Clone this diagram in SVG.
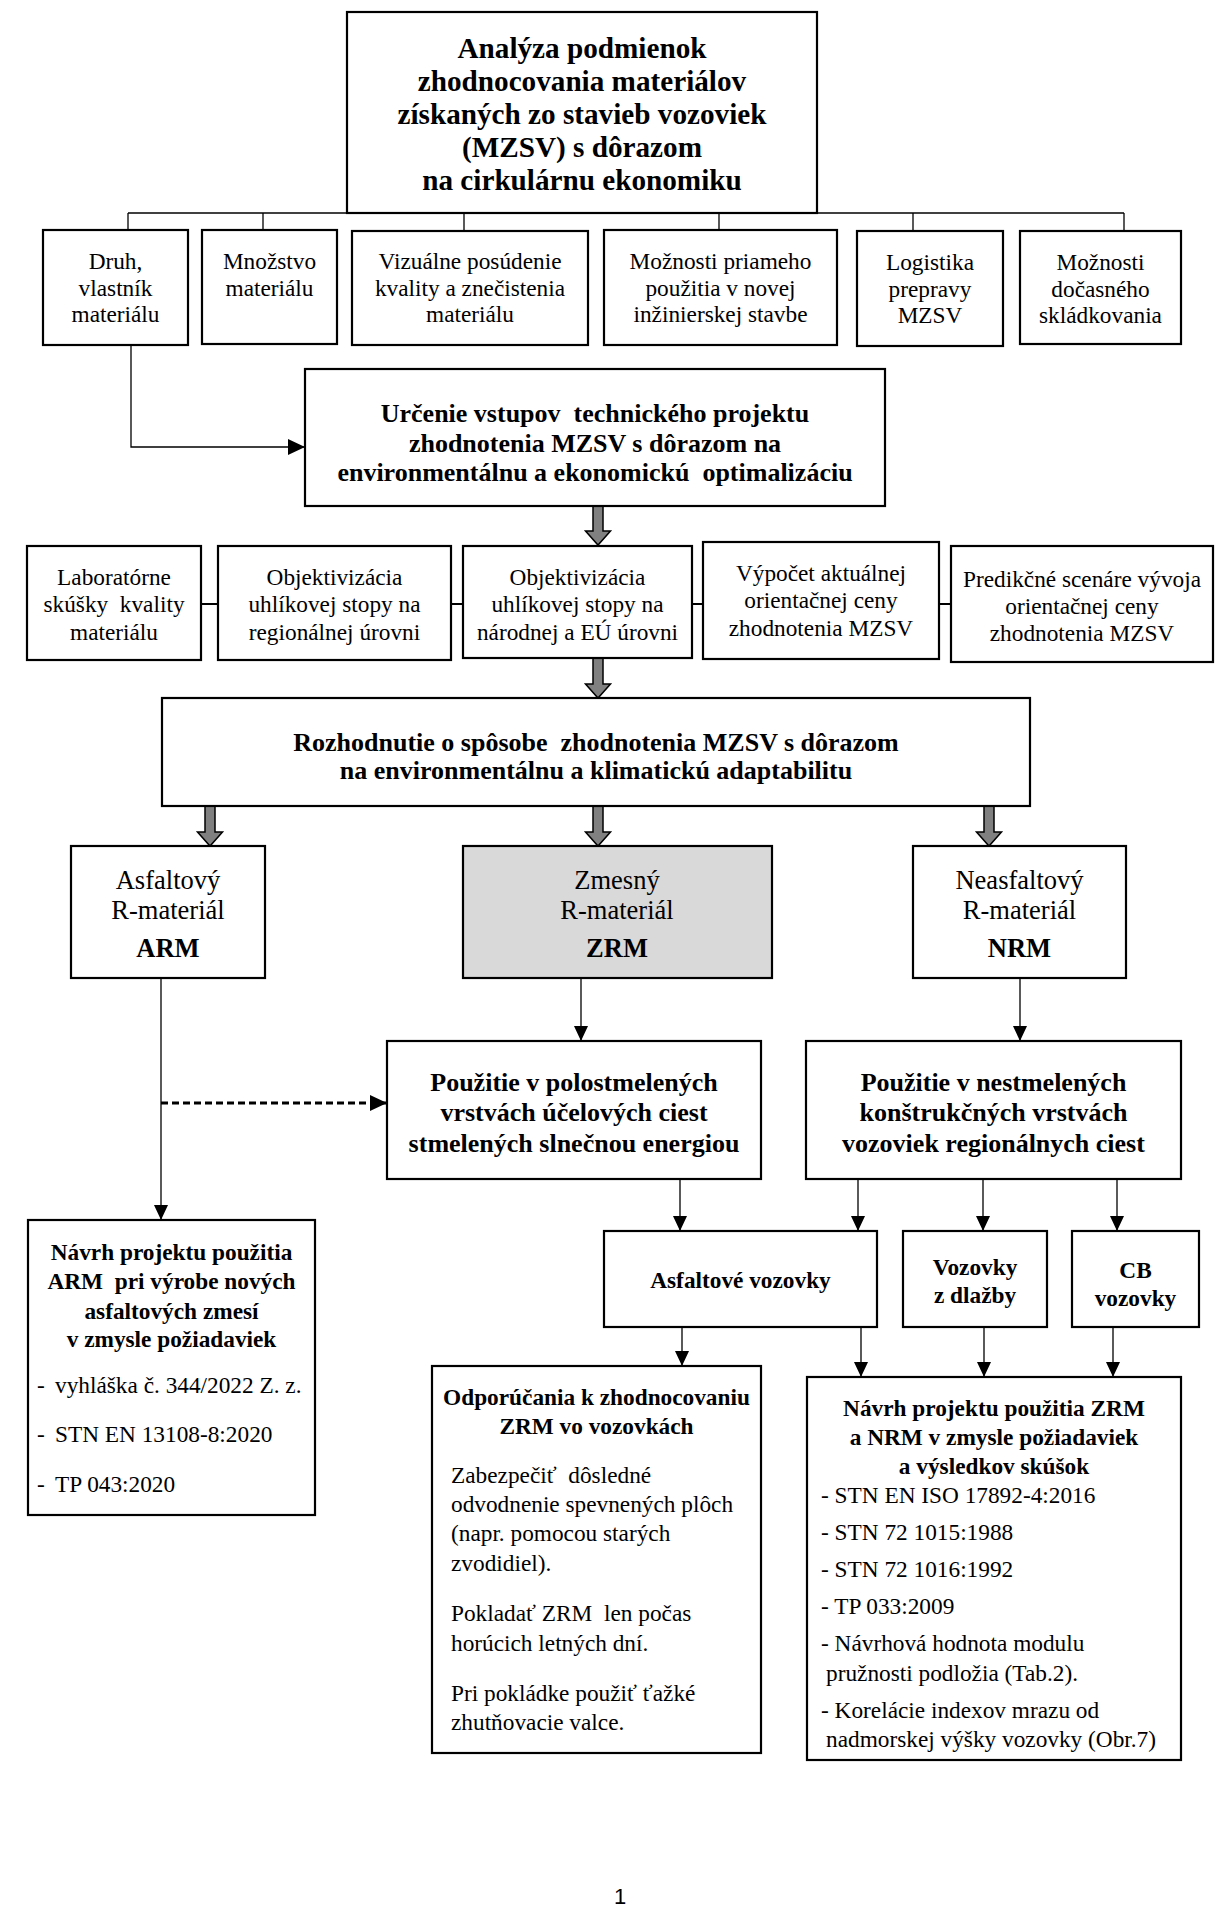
<svg xmlns="http://www.w3.org/2000/svg" width="1231" height="1920" viewBox="0 0 1231 1920">
<style>
.box{fill:#fff;stroke:#000;stroke-width:2.2}
.gray{fill:#d9d9d9}
.t{font-family:"Liberation Serif","Times New Roman",serif;font-size:23.3px;text-anchor:middle;fill:#000}
.b{font-weight:bold}
.m{font-size:26px}
.h{font-size:29.2px}
.r{font-size:26.5px}
.l{text-anchor:start}
.ln{stroke:#000;stroke-width:1.3;fill:none}
.ga{fill:#808080;stroke:#000;stroke-width:1.5}
</style>
<defs>
<marker id="ar" markerUnits="userSpaceOnUse" markerWidth="16" markerHeight="14" refX="15" refY="7" orient="auto"><path d="M0,0 L15,7 L0,14 z" fill="#000"/></marker>
<marker id="arb" markerUnits="userSpaceOnUse" markerWidth="18" markerHeight="16" refX="17" refY="8" orient="auto"><path d="M0,0 L17,8 L0,16 z" fill="#000"/></marker>
</defs>
<rect width="1231" height="1920" fill="#fff"/>

<g id="connectors">
<line class="ln" x1="128" y1="213" x2="1124" y2="213"/>
<line class="ln" x1="128" y1="213" x2="128" y2="230"/>
<line class="ln" x1="263" y1="213" x2="263" y2="230"/>
<line class="ln" x1="464" y1="213" x2="464" y2="231"/>
<line class="ln" x1="719" y1="213" x2="719" y2="230"/>
<line class="ln" x1="913" y1="213" x2="913" y2="231"/>
<line class="ln" x1="1124" y1="213" x2="1124" y2="231"/>
<line class="ln" x1="589" y1="188" x2="589" y2="213" marker-end="url(#ar)"/>
<polyline class="ln" points="131,345 131,447 305,447" marker-end="url(#arb)"/>
<polygon class="ga" points="593,506 603,506 603,531 610.5,531 598,545 585.5,531 593,531"/>
<line class="ln" style="stroke-width:2" x1="201" y1="604" x2="218" y2="604"/>
<line class="ln" style="stroke-width:2" x1="451" y1="604" x2="463" y2="604"/>
<line class="ln" style="stroke-width:2" x1="692" y1="604" x2="703" y2="604"/>
<line class="ln" style="stroke-width:2" x1="939" y1="604" x2="951" y2="604"/>
<polygon class="ga" points="593,658 603,658 603,684 610.5,684 598,698 585.5,684 593,684"/>
<polygon class="ga" points="205,806 215,806 215,832 222.5,832 210,846 197.5,832 205,832"/>
<polygon class="ga" points="593,806 603,806 603,832 610.5,832 598,846 585.5,832 593,832"/>
<polygon class="ga" points="984,804 994,804 994,832 1001.5,832 989,846 976.5,832 984,832"/>
<line class="ln" x1="161" y1="978" x2="161" y2="1220" marker-end="url(#ar)"/>
<line class="ln" style="stroke-width:3;stroke-dasharray:7 4" x1="161" y1="1103" x2="387" y2="1103" marker-end="url(#arb)"/>
<line class="ln" x1="581" y1="978" x2="581" y2="1041" marker-end="url(#ar)"/>
<line class="ln" x1="1020" y1="978" x2="1020" y2="1041" marker-end="url(#ar)"/>
<line class="ln" x1="680" y1="1179" x2="680" y2="1231" marker-end="url(#ar)"/>
<line class="ln" x1="858" y1="1179" x2="858" y2="1231" marker-end="url(#ar)"/>
<line class="ln" x1="983" y1="1179" x2="983" y2="1231" marker-end="url(#ar)"/>
<line class="ln" x1="1117" y1="1179" x2="1117" y2="1231" marker-end="url(#ar)"/>
<line class="ln" x1="682" y1="1327" x2="682" y2="1366" marker-end="url(#ar)"/>
<line class="ln" x1="861" y1="1327" x2="861" y2="1377" marker-end="url(#ar)"/>
<line class="ln" x1="984" y1="1327" x2="984" y2="1377" marker-end="url(#ar)"/>
<line class="ln" x1="1113" y1="1327" x2="1113" y2="1377" marker-end="url(#ar)"/>
</g>

<g id="analyza">
<rect class="box" x="347" y="12" width="470" height="201"/>
<text class="t b h" x="582" y="58">Analýza podmienok</text>
<text class="t b h" x="582" y="91">zhodnocovania materiálov</text>
<text class="t b h" x="582" y="124">získaných zo stavieb vozoviek</text>
<text class="t b h" x="582" y="157">(MZSV) s dôrazom</text>
<text class="t b h" x="582" y="190">na cirkulárnu ekonomiku</text>
</g>

<g id="druh">
<rect class="box" x="43" y="230" width="145" height="115"/>
<text class="t" x="115.5" y="269">Druh,</text>
<text class="t" x="115.5" y="296">vlastník</text>
<text class="t" x="115.5" y="322">materiálu</text>
</g>
<g id="mnozstvo">
<rect class="box" x="202" y="230" width="135" height="114"/>
<text class="t" x="269.5" y="269">Množstvo</text>
<text class="t" x="269.5" y="296">materiálu</text>
</g>
<g id="vizualne">
<rect class="box" x="352" y="231" width="236" height="114"/>
<text class="t" x="470" y="269">Vizuálne posúdenie</text>
<text class="t" x="470" y="296">kvality a znečistenia</text>
<text class="t" x="470" y="322">materiálu</text>
</g>
<g id="moznosti-priameho">
<rect class="box" x="604" y="230" width="233" height="115"/>
<text class="t" x="720.5" y="269">Možnosti priameho</text>
<text class="t" x="720.5" y="296">použitia v novej</text>
<text class="t" x="720.5" y="322">inžinierskej stavbe</text>
</g>
<g id="logistika">
<rect class="box" x="857" y="231" width="146" height="115"/>
<text class="t" x="930" y="270">Logistika</text>
<text class="t" x="930" y="297">prepravy</text>
<text class="t" x="930" y="323">MZSV</text>
</g>
<g id="moznosti-docasneho">
<rect class="box" x="1020" y="231" width="161" height="113"/>
<text class="t" x="1100.5" y="270">Možnosti</text>
<text class="t" x="1100.5" y="297">dočasného</text>
<text class="t" x="1100.5" y="323">skládkovania</text>
</g>

<g id="urcenie">
<rect class="box" x="305" y="369" width="580" height="137"/>
<text class="t b m" x="595" y="422" xml:space="preserve">Určenie vstupov  technického projektu</text>
<text class="t b m" x="595" y="452">zhodnotenia MZSV s dôrazom na</text>
<text class="t b m" x="595" y="481" xml:space="preserve">environmentálnu a ekonomickú  optimalizáciu</text>
</g>

<g id="laboratorne">
<rect class="box" x="27" y="546" width="174" height="114"/>
<text class="t" x="114" y="585">Laboratórne</text>
<text class="t" x="114" y="612" xml:space="preserve">skúšky  kvality</text>
<text class="t" x="114" y="640">materiálu</text>
</g>
<g id="objektivizacia-regionalna">
<rect class="box" x="218" y="546" width="233" height="114"/>
<text class="t" x="334.5" y="585">Objektivizácia</text>
<text class="t" x="334.5" y="612">uhlíkovej stopy na</text>
<text class="t" x="334.5" y="640">regionálnej úrovni</text>
</g>
<g id="objektivizacia-narodna">
<rect class="box" x="463" y="546" width="229" height="112"/>
<text class="t" x="577.5" y="585">Objektivizácia</text>
<text class="t" x="577.5" y="612">uhlíkovej stopy na</text>
<text class="t" x="577.5" y="640">národnej a EÚ úrovni</text>
</g>
<g id="vypocet">
<rect class="box" x="703" y="542" width="236" height="117"/>
<text class="t" x="821" y="581">Výpočet aktuálnej</text>
<text class="t" x="821" y="608">orientačnej ceny</text>
<text class="t" x="821" y="636">zhodnotenia MZSV</text>
</g>
<g id="predikcne">
<rect class="box" x="951" y="546" width="262" height="116"/>
<text class="t" x="1082" y="587">Predikčné scenáre vývoja</text>
<text class="t" x="1082" y="614">orientačnej ceny</text>
<text class="t" x="1082" y="641">zhodnotenia MZSV</text>
</g>

<g id="rozhodnutie">
<rect class="box" x="162" y="698" width="868" height="108"/>
<text class="t b m" x="596" y="751" xml:space="preserve">Rozhodnutie o spôsobe  zhodnotenia MZSV s dôrazom</text>
<text class="t b m" x="596" y="779">na environmentálnu a klimatickú adaptabilitu</text>
</g>

<g id="arm">
<rect class="box" x="71" y="846" width="194" height="132"/>
<text class="t r" x="168" y="889">Asfaltový</text>
<text class="t r" x="168" y="919">R-materiál</text>
<text class="t r b" x="168" y="957">ARM</text>
</g>
<g id="zrm">
<rect class="box gray" x="463" y="846" width="309" height="132"/>
<text class="t r" x="617" y="889">Zmesný</text>
<text class="t r" x="617" y="919">R-materiál</text>
<text class="t r b" x="617" y="957">ZRM</text>
</g>
<g id="nrm">
<rect class="box" x="913" y="846" width="213" height="132"/>
<text class="t r" x="1019.5" y="889">Neasfaltový</text>
<text class="t r" x="1019.5" y="919">R-materiál</text>
<text class="t r b" x="1019.5" y="957">NRM</text>
</g>

<g id="polostmelene">
<rect class="box" x="387" y="1041" width="374" height="138"/>
<text class="t b m" x="574" y="1091">Použitie v polostmelených</text>
<text class="t b m" x="574" y="1121">vrstvách účelových ciest</text>
<text class="t b m" x="574" y="1152">stmelených slnečnou energiou</text>
</g>
<g id="nestmelene">
<rect class="box" x="806" y="1041" width="375" height="138"/>
<text class="t b m" x="993.5" y="1091">Použitie v nestmelených</text>
<text class="t b m" x="993.5" y="1121">konštrukčných vrstvách</text>
<text class="t b m" x="993.5" y="1152">vozoviek regionálnych ciest</text>
</g>

<g id="asfaltove-vozovky">
<rect class="box" x="604" y="1231" width="273" height="96"/>
<text class="t b" x="740.5" y="1288">Asfaltové vozovky</text>
</g>
<g id="vozovky-z-dlazby">
<rect class="box" x="903" y="1231" width="144" height="96"/>
<text class="t b" x="975" y="1275">Vozovky</text>
<text class="t b" x="975" y="1303">z dlažby</text>
</g>
<g id="cb-vozovky">
<rect class="box" x="1072" y="1231" width="127" height="96"/>
<text class="t b" x="1135.5" y="1278">CB</text>
<text class="t b" x="1135.5" y="1306">vozovky</text>
</g>

<g id="navrh-arm">
<rect class="box" x="28" y="1220" width="287" height="295"/>
<text class="t b" x="171.5" y="1260">Návrh projektu použitia</text>
<text class="t b" x="171.5" y="1289" xml:space="preserve">ARM  pri výrobe nových</text>
<text class="t b" x="171.5" y="1319">asfaltových zmesí</text>
<text class="t b" x="171.5" y="1347">v zmysle požiadaviek</text>
<text class="t l" x="37" y="1393">-<tspan x="55">vyhláška č. 344/2022 Z. z.</tspan></text>
<text class="t l" x="37" y="1442">-<tspan x="55">STN EN 13108-8:2020</tspan></text>
<text class="t l" x="37" y="1492">-<tspan x="55">TP 043:2020</tspan></text>
</g>

<g id="odporucania">
<rect class="box" x="432" y="1366" width="329" height="387"/>
<text class="t b" x="596.5" y="1405">Odporúčania k zhodnocovaniu</text>
<text class="t b" x="596.5" y="1434">ZRM vo vozovkách</text>
<text class="t l" x="451" y="1483" xml:space="preserve">Zabezpečiť  dôsledné</text>
<text class="t l" x="451" y="1512">odvodnenie spevnených plôch</text>
<text class="t l" x="451" y="1541">(napr. pomocou starých</text>
<text class="t l" x="451" y="1571">zvodidiel).</text>
<text class="t l" x="451" y="1621" xml:space="preserve">Pokladať ZRM  len počas</text>
<text class="t l" x="451" y="1651">horúcich letných dní.</text>
<text class="t l" x="451" y="1701">Pri pokládke použiť ťažké</text>
<text class="t l" x="451" y="1730">zhutňovacie valce.</text>
</g>

<g id="navrh-zrm-nrm">
<rect class="box" x="807" y="1377" width="374" height="383"/>
<text class="t b" x="994" y="1416">Návrh projektu použitia ZRM</text>
<text class="t b" x="994" y="1445">a NRM v zmysle požiadaviek</text>
<text class="t b" x="994" y="1474">a výsledkov skúšok</text>
<text class="t l" x="821" y="1503">- STN EN ISO 17892-4:2016</text>
<text class="t l" x="821" y="1540">- STN 72 1015:1988</text>
<text class="t l" x="821" y="1577">- STN 72 1016:1992</text>
<text class="t l" x="821" y="1614">- TP 033:2009</text>
<text class="t l" x="821" y="1651">- Návrhová hodnota modulu</text>
<text class="t l" x="826" y="1681">pružnosti podložia (Tab.2).</text>
<text class="t l" x="821" y="1718">- Korelácie indexov mrazu od</text>
<text class="t l" x="826" y="1747">nadmorskej výšky vozovky (Obr.7)</text>
</g>

<text x="620" y="1904" style="font-family:'Liberation Sans',Arial,sans-serif;font-size:22px;text-anchor:middle;fill:#000">1</text>
</svg>
